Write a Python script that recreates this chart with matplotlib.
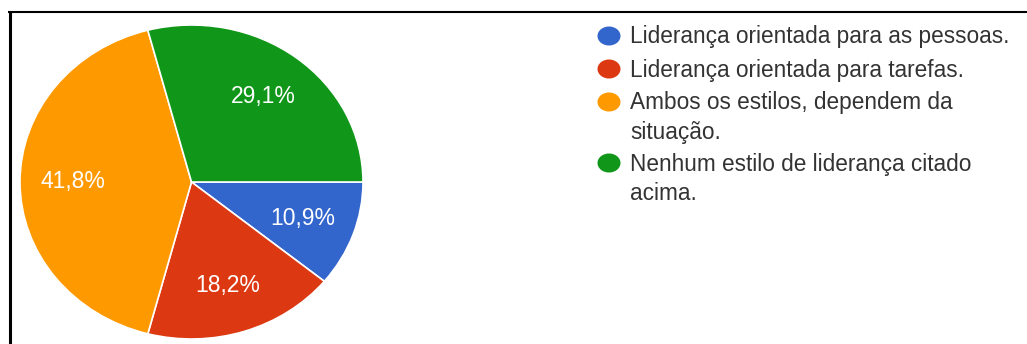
import matplotlib
matplotlib.use("Agg")
import matplotlib.pyplot as plt
from matplotlib.patches import Ellipse

plt.rcParams["font.family"] = ["Liberation Sans", "DejaVu Sans"]

# respostas: estilo de liderança preferido (%)
labels = [
    "Liderança orientada para as pessoas.",
    "Liderança orientada para tarefas.",
    "Ambos os estilos, dependem da\nsituação.",
    "Nenhum estilo de liderança citado\nacima.",
]
shares = [10.9, 18.2, 41.8, 29.1]
colors = ["#3366cc", "#dc3912", "#ff9900", "#109618"]

W, H = 1027, 344
fig = plt.figure(figsize=(W / 100, H / 100), dpi=100)

# overlay in pixel units for the frame lines and the legend
ov = fig.add_axes([0, 0, 1, 1])
ov.set_xlim(0, W)
ov.set_ylim(H, 0)
ov.axis("off")
ov.plot([9.5, 9.5], [11, H], color="black", lw=2.2, solid_capstyle="butt")
ov.plot([8, W], [12, 12], color="black", lw=1.5, solid_capstyle="butt")

# pie area (slightly wider than tall)
px0, py0, px1, py1 = 20, 25, 363, 339
ax = fig.add_axes([px0 / W, (H - py1) / H, (px1 - px0) / W, (py1 - py0) / H])
ax.pie(
    shares,
    colors=colors,
    startangle=0,
    counterclock=False,
    radius=1,
    pctdistance=0.69,
    autopct=lambda p: f"{p:.1f}%".replace(".", ","),
    wedgeprops=dict(edgecolor="white", linewidth=1.2),
    textprops=dict(color="white", fontsize=16.5),
)
ax.set_xlim(-1.0, 1.0)
ax.set_ylim(-1.0, 1.0)
ax.set_aspect("auto")
ax.axis("off")

# legend: one marker per entry, wrapped lines 29 px apart
marker_y = [36, 69, 102, 163]
for lab, col, y in zip(labels, colors, marker_y):
    ov.add_patch(Ellipse((609, y), 23, 19, color=col, lw=0))
    for i, line in enumerate(lab.split("\n")):
        ov.text(630, y + 7.5 + 29 * i, line, fontsize=16.3, color="#333333",
                va="baseline", ha="left")

fig.savefig("out.png", dpi=100)
